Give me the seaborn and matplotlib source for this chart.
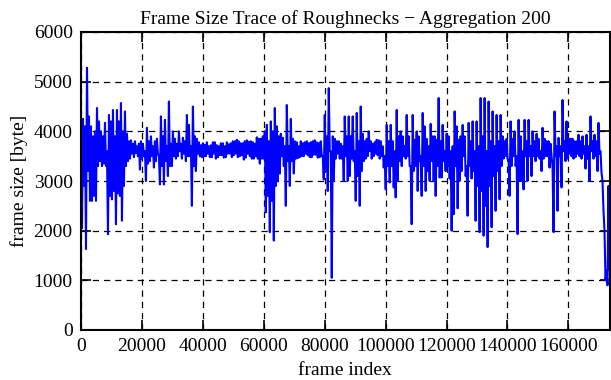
import numpy as np
import pandas as pd
import matplotlib
matplotlib.use("Agg")
import matplotlib.pyplot as plt
import seaborn as sns

# Frame sizes (bytes). Each 656-frame stretch holds
# one high sample followed by one low sample (328 frames apart).
size_high = [
    4000, 4250, 4100, 5280, 4300, 4100, 3900, 4000, 4470, 4200,
    4000, 3900, 4170, 3600, 4330, 4200, 4430, 3900, 4430, 4200,
    4570, 4000, 4400, 3950, 3800, 3820, 3750, 3800, 3700, 3750,
    3800, 3750, 3600, 4070, 3800, 3900, 3700, 3800, 3850, 3500,
    4300, 3900, 4230, 3700, 4600,
    3750, 4000, 3850, 3750, 4000, 3750, 3870, 3800, 4330, 4130,
    3700, 4500, 3900, 3850, 3780, 3720, 3760, 3730, 3780, 3700,
    3720, 3780, 3780, 3720, 3700, 3760, 3760, 3700, 3780, 3740,
    3760, 3800, 3800, 3830, 3800, 3760, 3760, 3800, 3820, 3790,
    3800, 3780, 3750, 3880,
    3850, 3850, 3900, 4000, 4130, 3800, 4200, 4000, 4470, 4100,
    3900, 3950, 3870, 3700, 4530, 3700, 4250, 3850, 3800, 3780,
    3700, 3800, 3760, 3780, 3800, 3760, 3780, 3800, 3820, 3780,
    3760, 3800, 3500, 4330, 3900, 4870, 3600, 3900, 3850, 3800,
    3800, 3750, 3700, 4300,
    3900, 4300, 3900, 4300, 3600, 4370, 3800, 4500, 3950, 3800,
    3850, 4000, 3800, 3750, 3780, 3830, 3820, 3800, 3700, 3500,
    4130, 3800, 4130, 3800, 3600, 4430, 3900, 4000, 3900, 3700,
    4330, 3900, 3300, 4330, 3830, 4000, 3900, 3500, 4370, 4100,
    3850, 3700, 4150, 3900,
    3900, 3830, 4670, 3800, 4130, 3600, 3950, 3900, 3600, 3700,
    4400, 4100, 3830, 3900, 4130, 3900, 3300, 4170, 3800, 4200,
    3600, 4200, 3700, 4670, 3900, 4670, 3600, 4600, 3800, 4400,
    3700, 4330, 3800, 4330, 3900, 3800, 3850, 3400, 4200, 3850,
    4000, 3500, 4230, 3900,
    3600, 4230, 3800, 4230, 3700, 4000, 3800, 3950, 3850, 3600,
    4070, 3850, 3800, 3800, 3750, 3300, 4400, 3700, 3870, 3700,
    4630, 3800, 4200, 3850, 3850, 3850, 3800, 3800, 3930, 3800,
    3900, 3700, 3930, 3700, 4300, 3800, 3930, 3800, 4170, 3600,
    3000, 2000, 1200, 2900,
]
size_low = [
    2050, 2900, 1630, 3200, 2600, 2600, 2700, 2600, 3300, 3400,
    3300, 3350, 3300, 1930, 2700, 2630, 2800, 2130, 2750, 2700,
    2200, 2900, 3300, 3400, 3450, 3550, 3480, 3560, 3500, 3230,
    3450, 3500, 3000, 3350, 3400, 3500, 3270, 3400, 3550, 2930,
    3300, 2930, 3400, 3100, 3300,
    3300, 3500, 3450, 3500, 3600, 3450, 3550, 3400, 3500, 3500,
    2500, 3300, 3200, 3550, 3500, 3480, 3500, 3500, 3550, 3480,
    3480, 3550, 3450, 3480, 3520, 3520, 3470, 3480, 3550, 3550,
    3480, 3520, 3550, 3480, 3500, 3520, 3430, 3470, 3550, 3500,
    3450, 3450, 3500, 3450,
    3350, 3450, 3450, 2370, 2700, 1970, 2600, 1800, 2900, 3000,
    3150, 3500, 3300, 2500, 3400, 2900, 3400, 3150, 3450, 3460,
    3480, 3500, 3500, 3550, 3520, 3480, 3480, 3530, 3530, 3470,
    3480, 3500, 3030, 3200, 2800, 3600, 1050, 3000, 3450, 3550,
    3450, 3450, 3000, 3500,
    3000, 3100, 3450, 3400, 2600, 3100, 2500, 3200, 3400, 3450,
    3500, 3600, 3450, 3500, 3550, 3520, 3450, 3500, 3270, 2830,
    3300, 2970, 3300, 2870, 2670, 3000, 3400, 3300, 3500, 3450,
    3500, 3300, 2130, 3200, 3300, 2800, 3400, 2700, 3300, 2800,
    3200, 3000, 3400, 3000,
    2700, 3300, 3070, 3070, 3400, 3200, 3300, 3050, 2000, 2330,
    3300, 2450, 3000, 3200, 3500, 3100, 2300, 3300, 3050, 3200,
    2200, 2900, 1970, 2800, 1900, 2500, 1670, 2900, 2070, 3100,
    2400, 3200, 2630, 3300, 3450, 3500, 3450, 2700, 3300, 3500,
    3300, 1930, 3000, 3000,
    2830, 3500, 3000, 3500, 3100, 3500, 3400, 3500, 3450, 3200,
    3450, 3500, 3500, 3270, 3500, 1970, 3500, 2400, 3500, 2870,
    3600, 3400, 3450, 3550, 3500, 3450, 3480, 3550, 3500, 3450,
    3550, 3250, 3450, 3000, 3600, 3450, 3500, 3200, 3550, 3170,
    2400, 1000, 900, 1200,
]
frame_step = 328

x_ticks = [0, 20000, 40000, 60000, 80000, 100000, 120000, 140000, 160000]
y_ticks = [0, 1000, 2000, 3000, 4000, 5000, 6000]

title = "Frame Size Trace of Roughnecks \u2212 Aggregation 200"
x_label = "frame index"
y_label = "frame size [byte]"

frame_size = []
for hi, lo in zip(size_high, size_low):
    frame_size += [hi, lo]
frame_index = [i * frame_step for i in range(len(frame_size))]

df = pd.DataFrame({"frame index": frame_index, "frame size": frame_size})

sns.set_theme(style="white")
plt.rcParams["font.family"] = ["Liberation Serif", "DejaVu Serif"]

fig = plt.figure(figsize=(6.11, 3.80), dpi=100)
ax = fig.add_axes([81 / 611, 1 - 330 / 380, 528.5 / 611, 298 / 380])

sns.lineplot(data=df, x="frame index", y="frame size", ax=ax,
             color="#0000ff", linewidth=1.5, estimator=None, sort=False)

ax.set_xlim(0, frame_index[-1])
ax.set_ylim(0, 6000)
ax.set_xticks(x_ticks)
ax.set_yticks(y_ticks)
ax.set_xticklabels([str(t) for t in x_ticks], fontsize=14)
ax.set_yticklabels([str(t) for t in y_ticks], fontsize=14)

ax.grid(True, color="black", linestyle=(0, (5, 4)), linewidth=0.9)
ax.set_axisbelow(True)

for s in ax.spines.values():
    s.set_color("black")
    s.set_linewidth(1.5)
    s.set_visible(True)

ax.tick_params(axis="both", which="both", direction="in", length=7,
               width=1.2, color="black", top=True, right=True,
               bottom=True, left=True, labelcolor="black", pad=6)

ax.set_xlabel(x_label, fontsize=14, color="black", labelpad=5)
ax.set_ylabel(y_label, fontsize=14, color="black", labelpad=4)
ax.set_title(title, fontsize=14, color="black", pad=6)

fig.savefig("out.png", dpi=100, facecolor="white")
